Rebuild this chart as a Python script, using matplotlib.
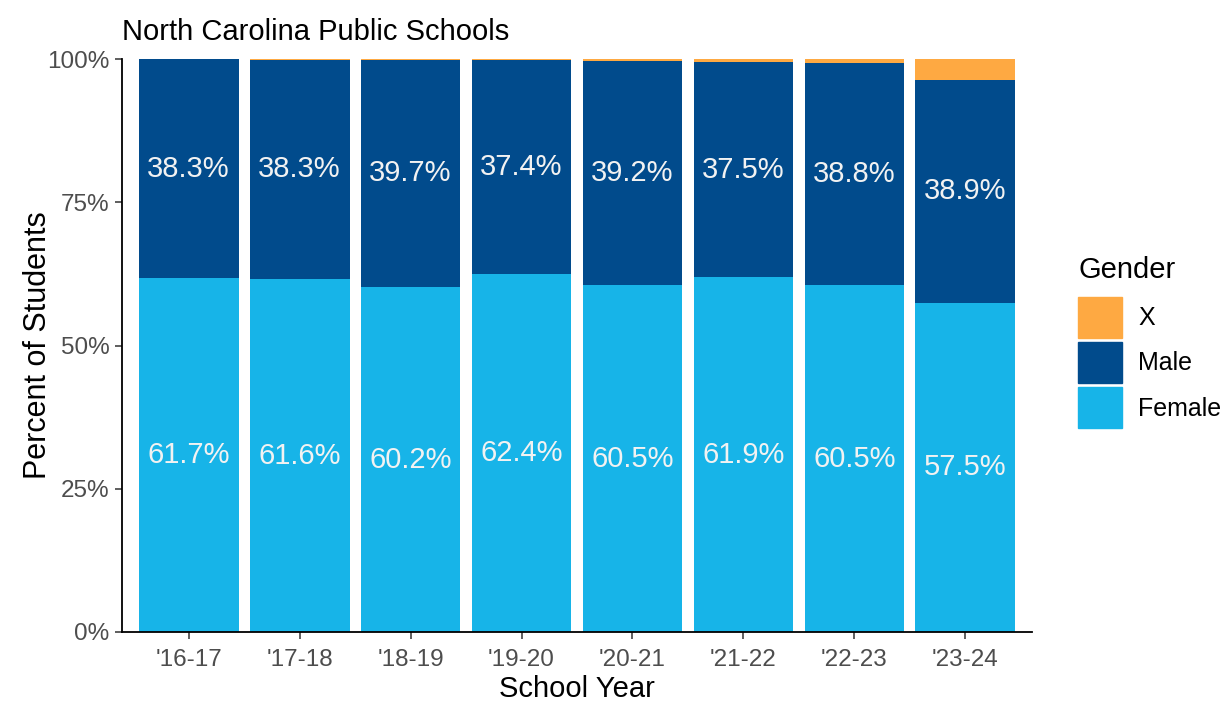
import matplotlib.pyplot as plt
import matplotlib.patches as mpatches
import numpy as np

plt.rcParams['font.family'] = ['Liberation Sans', 'DejaVu Sans']

years = ["'16-17", "'17-18", "'18-19", "'19-20", "'20-21", "'21-22", "'22-23", "'23-24"]
female = [61.7, 61.6, 60.2, 62.4, 60.5, 61.9, 60.5, 57.5]
male = [38.3, 38.3, 39.7, 37.4, 39.2, 37.5, 38.8, 38.9]
gender_x = [0.0, 0.1, 0.1, 0.2, 0.3, 0.6, 0.7, 3.6]

C_FEMALE = '#17b4e8'
C_MALE = '#014b8c'
C_X = '#fea942'

fig = plt.figure(figsize=(12.25, 7.04), dpi=100)
ax = fig.add_axes([122 / 1225, 1 - 632 / 704, (1032 - 122) / 1225, (632 - 59) / 704])

x = np.arange(1, len(years) + 1)
fem = np.array(female)
mal = np.array(male)
gx = np.array(gender_x)

ax.bar(x, fem, 0.9, color=C_FEMALE)
ax.bar(x, mal, 0.9, bottom=fem, color=C_MALE)
ax.bar(x, gx, 0.9, bottom=fem + mal, color=C_X)

for i in range(len(years)):
    ax.text(x[i], fem[i] / 2, '%.1f%%' % fem[i], ha='center', va='center', color='#f2f2f2', fontsize=21)
    ax.text(x[i], fem[i] + mal[i] / 2, '%.1f%%' % mal[i], ha='center', va='center', color='#f2f2f2', fontsize=21)

ax.set_xlim(0.4, 8.6)
ax.set_ylim(0, 100)
ax.set_xticks(x)
ax.set_xticklabels(years)
ax.set_yticks([0, 25, 50, 75, 100])
ax.set_yticklabels(['0%', '25%', '50%', '75%', '100%'])
ax.tick_params(labelcolor='#4d4d4d', labelsize=17.5, length=5, width=1.1, color='#333333', pad=4)
ax.tick_params(axis='x', pad=7)
for s in ['top', 'right']:
    ax.spines[s].set_visible(False)
for s in ['left', 'bottom']:
    ax.spines[s].set_linewidth(1.3)
    ax.spines[s].set_color('black')

ax.set_xlabel('School Year', fontsize=21, labelpad=3)
ax.set_ylabel('Percent of Students', fontsize=22, labelpad=-4)
ax.set_title('North Carolina Public Schools', fontsize=21, loc='left', pad=14, x=0)

# legend
handles = [mpatches.Patch(color=C_X, label='X'),
           mpatches.Patch(color=C_MALE, label='Male'),
           mpatches.Patch(color=C_FEMALE, label='Female')]
fig.text(1079 / 1225, 1 - 270 / 704, 'Gender', fontsize=21, ha='left', va='center')
leg = fig.legend(handles=handles, loc='upper left',
                 bbox_to_anchor=(1078 / 1225, 1 - 297 / 704), frameon=False,
                 fontsize=18, handlelength=1.76, handleheight=2.15,
                 labelspacing=0.16, handletextpad=0.64, borderaxespad=0, borderpad=0)

fig.savefig('out.png', dpi=100)
